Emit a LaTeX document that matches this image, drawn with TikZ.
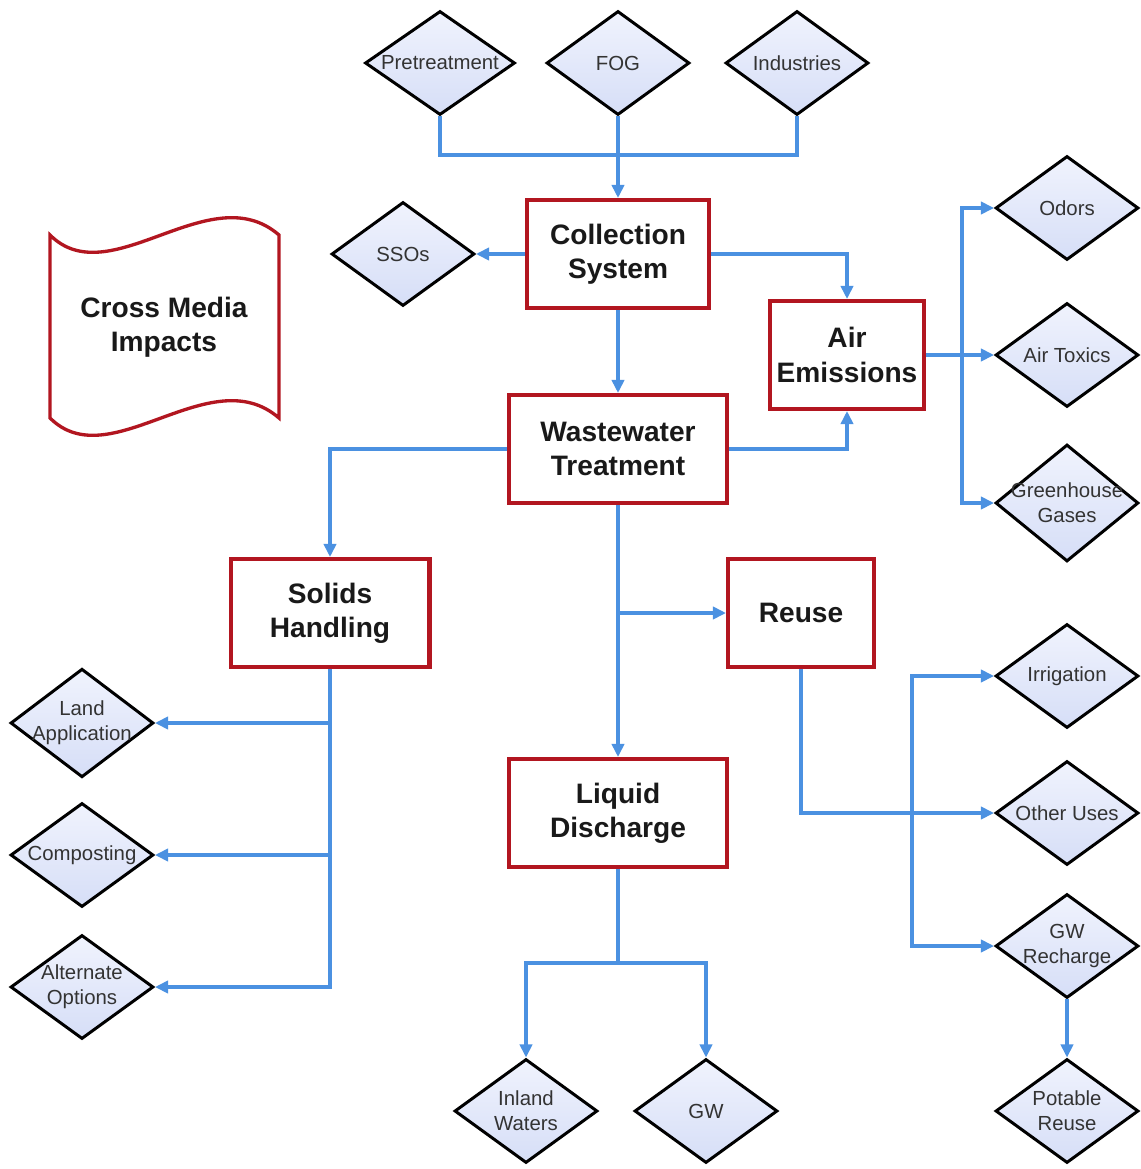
\documentclass[tikz,border=0pt]{standalone}
\usepackage{fontspec}
\setmainfont{Liberation Sans}
\usetikzlibrary{shapes.geometric, arrows.meta}
\definecolor{box-red}{RGB}{178,22,32}
\definecolor{link-blue}{RGB}{75,145,225}
\definecolor{diam-top}{RGB}{240,243,253}
\definecolor{diam-bottom}{RGB}{214,222,247}
\definecolor{diam-text}{gray}{0.2}

\tikzset{
  box/.style={draw=box-red, line width=2.3pt, fill=white, align=center,
    text=black!90, font=\fontsize{16}{19.5}\selectfont\bfseries, minimum height=2.16cm},
  diam/.style={diamond, draw=black, line width=1.7pt, top color=diam-top,
    bottom color=diam-bottom, minimum width=2.86cm, minimum height=2.08cm,
    inner sep=-5pt, align=center, text=diam-text, font=\fontsize{11.6}{14.2}\selectfont},
  link/.style={draw=link-blue, line width=2pt},
  arr/.style={link, -{Triangle[length=7.5pt, width=7pt]}}
}

\begin{document}
\begin{tikzpicture}[x=0.02cm, y=-0.02cm]
        \useasboundingbox (0,0) rectangle (1140,1169);
        % Cross media banner
        \draw [draw=box-red, line width=1.9pt, fill=white] (50,235)
            .. controls (110,295) and (210,175) .. (279,235) -- (279,418)
            .. controls (210,358) and (110,478) .. (50,418) -- cycle;
        \node [align=center, font=\fontsize{16}{19.5}\selectfont\bfseries, text=black!90]
            (cmi) at (164,327) {Cross Media\\Impacts};
        % Sources
        \node [diam, minimum width=3.0cm] (pre) at (440,63) {Pretreatment};
        \node [diam] (fog) at (618,63) {FOG};
        \node [diam] (ind) at (797,63) {Industries};
        % Main boxes
        \node [box, minimum width=3.64cm] (col) at (618,254) {Collection\\System};
        \node [box, minimum width=3.08cm] (air) at (847,355) {Air\\Emissions};
        \node [box, minimum width=4.36cm] (ww) at (618,449) {Wastewater\\Treatment};
        \node [box, minimum width=3.98cm] (sol) at (330,613) {Solids\\Handling};
        \node [box, minimum width=2.92cm] (reu) at (801,613) {Reuse};
        \node [box, minimum width=4.36cm] (liq) at (618,813) {Liquid\\Discharge};
        % SSOs
        \node [diam] (sso) at (403,254) {SSOs};
        % Air outcomes
        \node [diam] (odo) at (1067,208) {Odors};
        \node [diam] (atx) at (1067,355) {Air Toxics};
        \node [diam] (ghg) at (1067,503) {Greenhouse\\Gases};
        % Solids outcomes
        \node [diam] (lap) at (82,723) {Land\\Application};
        \node [diam] (cmp) at (82,855) {Composting};
        \node [diam] (alt) at (82,987) {Alternate\\Options};
        % Reuse outcomes
        \node [diam] (irr) at (1067,676) {Irrigation};
        \node [diam] (oth) at (1067,813) {Other Uses};
        \node [diam] (gwr) at (1067,946) {GW\\Recharge};
        \node [diam] (pot) at (1067,1111) {Potable\\Reuse};
        % Discharge outcomes
        \node [diam] (inl) at (526,1111) {Inland\\Waters};
        \node [diam] (gwd) at (706,1111) {GW};

        % Sources into collection
        \coordinate (topjoin) at (618,155);
        \draw [link] (pre.south) |- (topjoin) -| (ind.south);
        \draw [arr] (fog.south) -- (col.north);
        % Collection links
        \draw [arr] (col.west) -- (sso.east);
        \draw [arr] (col.east) -| (air.north);
        \draw [arr] (col.south) -- (ww.north);
        % Treatment links
        \draw [arr] (ww.east) -| (air.south);
        \draw [arr] (ww.west) -| (sol.north);
        \draw [arr] (ww.south) -- (liq.north);
        \coordinate (reusejoin) at (618,613);
        \draw [arr] (reusejoin) -- (reu.west);
        % Air bus
        \coordinate (airjoin) at (962,355);
        \draw [link] (air.east) -- (airjoin);
        \draw [arr] (airjoin) |- (odo.west);
        \draw [arr] (airjoin) -- (atx.west);
        \draw [arr] (airjoin) |- (ghg.west);
        % Solids bus
        \draw [arr] (sol.south) |- (alt.east);
        \draw [arr] (sol.south |- lap.east) -- (lap.east);
        \draw [arr] (sol.south |- cmp.east) -- (cmp.east);
        % Reuse bus
        \draw [arr] (reu.south) |- (oth.west);
        \coordinate (reusebus) at (912,813);
        \draw [arr] (reusebus) |- (irr.west);
        \draw [arr] (reusebus) |- (gwr.west);
        \draw [arr] (gwr.south) -- (pot.north);
        % Discharge bus
        \coordinate (liqjoin) at (618,963);
        \draw [link] (liq.south) -- (liqjoin);
        \draw [arr] (liqjoin) -| (inl.north);
        \draw [arr] (liqjoin) -| (gwd.north);
\end{tikzpicture}
\end{document}
